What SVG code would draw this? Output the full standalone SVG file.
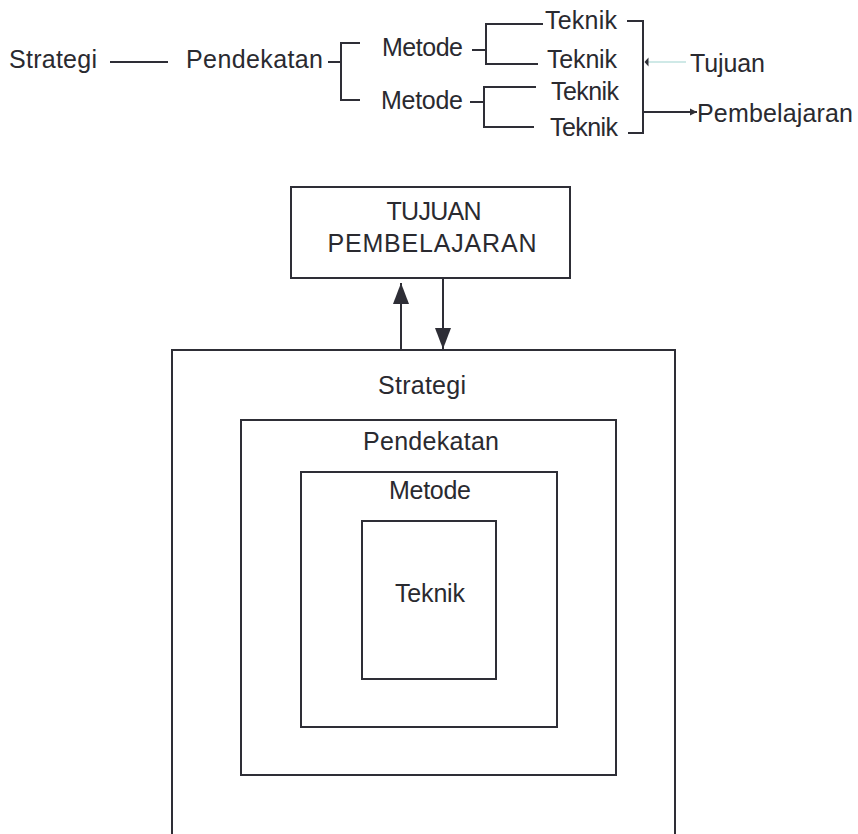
<svg xmlns="http://www.w3.org/2000/svg" width="858" height="834" viewBox="0 0 858 834">
  <style>
    .lbl { font-family: "Liberation Sans", Arial, sans-serif; font-size: 25px; fill: #2a2a30; }
    .mid { text-anchor: middle; }
    .ln { fill: none; stroke: #2e2e36; stroke-width: 2; }
    .box { fill: none; stroke: #2e2e36; stroke-width: 2; }
    .thin { fill: none; stroke: #9fd3cf; stroke-width: 1.2; }
  </style>
  <defs>
    <marker id="bigHead" markerUnits="userSpaceOnUse" markerWidth="22" markerHeight="16" viewBox="0 0 22 16" refX="21" refY="8" orient="auto">
      <path d="M0,0 L21,8 L0,16 z" fill="#2e2e36"/>
    </marker>
    <marker id="smallHead" markerUnits="userSpaceOnUse" markerWidth="8" markerHeight="8" viewBox="0 0 8 8" refX="7" refY="4" orient="auto">
      <path d="M0,0.5 L7,4 L0,7.5 z" fill="#2e2e36"/>
    </marker>
  </defs>

  <rect width="858" height="834" fill="#ffffff"/>

  <!-- hierarchy line: labels -->
  <g id="top-strategi"><text class="lbl" x="9" y="68" textLength="88">Strategi</text></g>
  <g id="top-pendekatan"><text class="lbl" x="186" y="68" textLength="137">Pendekatan</text></g>
  <g id="top-metode-1"><text class="lbl" x="382" y="56" textLength="81">Metode</text></g>
  <g id="top-metode-2"><text class="lbl" x="381" y="109" textLength="82">Metode</text></g>
  <g id="top-teknik-1"><text class="lbl" x="545" y="29" textLength="72">Teknik</text></g>
  <g id="top-teknik-2"><text class="lbl" x="547" y="68" textLength="70">Teknik</text></g>
  <g id="top-teknik-3"><text class="lbl" x="551" y="100" textLength="68">Teknik</text></g>
  <g id="top-teknik-4"><text class="lbl" x="550" y="136" textLength="68">Teknik</text></g>
  <g id="top-tujuan"><text class="lbl" x="690" y="72" textLength="75">Tujuan</text></g>
  <g id="top-pembelajaran"><text class="lbl" x="697" y="122" textLength="156">Pembelajaran</text></g>

  <!-- nested model: boxes -->
  <g id="tujuan-pembelajaran">
    <rect class="box" x="291" y="187" width="279" height="91"/>
    <text class="lbl mid" x="434" y="220" textLength="95">TUJUAN</text>
    <text class="lbl mid" x="432" y="252" textLength="209">PEMBELAJARAN</text>
  </g>
  <g id="strategi">
    <path class="box" d="M172,836 V350 H675 V836"/>
    <text class="lbl mid" x="422" y="394" textLength="88">Strategi</text>
  </g>
  <g id="pendekatan">
    <rect class="box" x="241" y="420" width="375" height="355"/>
    <text class="lbl mid" x="431" y="450" textLength="136">Pendekatan</text>
  </g>
  <g id="metode">
    <rect class="box" x="301" y="472" width="256" height="255"/>
    <text class="lbl mid" x="430" y="499" textLength="82">Metode</text>
  </g>
  <g id="teknik">
    <rect class="box" x="362" y="521" width="134" height="158"/>
    <text class="lbl mid" x="430" y="602" textLength="70">Teknik</text>
  </g>

  <!-- connectors -->
  <g id="connectors">
    <line class="ln" x1="110" y1="62" x2="168" y2="62"/>
    <line class="ln" x1="328" y1="62" x2="341" y2="62"/>
    <path class="ln" d="M360,43 H341 V100 H360"/>
    <line class="ln" x1="472" y1="50" x2="486" y2="50"/>
    <path class="ln" d="M543,24 H486 V64 H538"/>
    <line class="ln" x1="470" y1="102" x2="484" y2="102"/>
    <path class="ln" d="M536,87 H484 V127 H534"/>
    <path class="ln" d="M627,21 H643 V133 H628"/>
    <line class="thin" x1="686" y1="62" x2="646" y2="62"/>
    <path d="M644.5,62 L648.5,57.5 L648.5,66.5 z" fill="#2e2e36"/>
    <line class="ln" x1="643" y1="112" x2="697" y2="112" marker-end="url(#smallHead)"/>
    <line class="ln" x1="401" y1="350" x2="401" y2="283" marker-end="url(#bigHead)"/>
    <line class="ln" x1="443" y1="278" x2="443" y2="349" marker-end="url(#bigHead)"/>
  </g>
</svg>
